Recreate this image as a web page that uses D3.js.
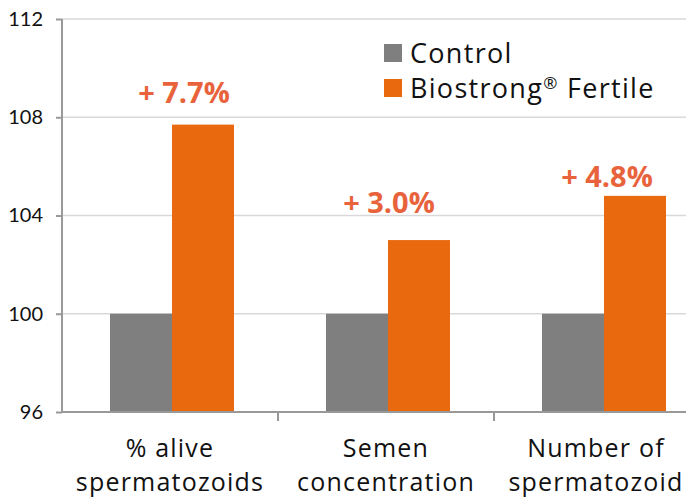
<!DOCTYPE html>
<html>
<head>
<meta charset="utf-8">
<script src="https://cdn.jsdelivr.net/npm/d3@7"></script>
<style>
  body { margin: 0; background: #fff; }
  text { font-family: "Open Sans", Lato, sans-serif; }
</style>
</head>
<body>
<div id="chart"></div>
<script>
// Chart data
const categories = [["% alive", "spermatozoids"], ["Semen", "concentration"], ["Number of", "spermatozoid"]];
const seriesNames = ["Control", "Biostrong"];
const diffLabels = ["+ 7.7%", "+ 3.0%", "+ 4.8%"];
const controlValues = [100, 100, 100];
const biostrongValues = [107.7, 103.0, 104.8];
const yTicks = [96, 100, 104, 108, 112];

// hand placement of the percent labels, relative to the orange bar top
const labelDx = [-19, -30, -28];
const labelDy = [-22, -27, -9];

const width = 686, height = 501;
const colors = ["#7f7f7f", "#e9690f"];

const svg = d3.select("#chart").append("svg")
    .attr("width", width)
    .attr("height", height);

// Scales (third category runs off the right edge like the original)
const x0 = d3.scaleBand()
    .domain(d3.range(categories.length))
    .range([62, 710]);

const x1 = d3.scaleBand()
    .domain([0, 1])
    .range([48, 172]);

const y = d3.scaleLinear()
    .domain([96, 112])
    .range([412, 19]);

// Gridlines
svg.append("g")
    .selectAll("line")
    .data(yTicks.slice(1))
    .join("line")
    .attr("x1", 62)
    .attr("x2", width)
    .attr("y1", d => y(d))
    .attr("y2", d => y(d))
    .attr("stroke", "#d9d9d9")
    .attr("stroke-width", 1.5);

// Bars
const groups = svg.append("g")
    .selectAll("g")
    .data(categories.map((c, i) => [controlValues[i], biostrongValues[i]]))
    .join("g")
    .attr("transform", (d, i) => `translate(${x0(i)},0)`);

groups.selectAll("rect")
    .data(d => d.map((v, k) => ({ k, v })))
    .join("rect")
    .attr("x", d => x1(d.k))
    .attr("y", d => y(d.v))
    .attr("width", x1.bandwidth())
    .attr("height", d => y(96) - y(d.v))
    .attr("fill", d => colors[d.k]);

// Percent labels
groups.append("text")
    .attr("x", (d, i) => x1(1) + x1.bandwidth() / 2 + labelDx[i])
    .attr("y", (d, i) => y(biostrongValues[i]) + labelDy[i])
    .attr("text-anchor", "middle")
    .attr("fill", "#e8623c")
    .attr("font-size", 29)
    .attr("font-weight", "bold")
    .text((d, i) => diffLabels[i]);

// Y axis
const yAxis = svg.append("g")
    .attr("transform", "translate(62,0)")
    .call(d3.axisLeft(y).tickValues(yTicks).tickSize(6).tickFormat(d3.format("d")));
yAxis.select(".domain").attr("stroke", "#999").attr("stroke-width", 2).attr("d", `M0,${y(112)}V${y(96)}`);
yAxis.selectAll(".tick line").attr("stroke", "#999").attr("stroke-width", 2);
yAxis.selectAll(".tick text")
    .attr("x", -19)
    .attr("font-size", 20)
    .attr("fill", "#111")
    .style("font-family", "Lato, sans-serif");

// X axis
const xAxis = svg.append("g")
    .attr("transform", `translate(0,${y(96)})`);
xAxis.append("line")
    .attr("x1", 62).attr("x2", width)
    .attr("stroke", "#999").attr("stroke-width", 2);
xAxis.selectAll(".sep")
    .data(d3.range(1, categories.length + 1))
    .join("line")
    .attr("class", "sep")
    .attr("x1", i => x0(i) ?? x0.range()[1])
    .attr("x2", i => x0(i) ?? x0.range()[1])
    .attr("y1", 0).attr("y2", 9)
    .attr("stroke", "#999").attr("stroke-width", 2);

// Category labels
categories.forEach((lines, i) => {
    const t = svg.append("text")
        .attr("text-anchor", "middle")
        .attr("font-size", 25)
        .attr("letter-spacing", 1.2)
        .attr("fill", "#111");
    lines.forEach((line, j) => {
        t.append("tspan")
            .attr("x", x0(i) + x0.bandwidth() / 2 - (i === 2 ? 6 : 0))
            .attr("y", 457 + j * 34)
            .text(line);
    });
});

// Legend
const legend = svg.append("g").attr("transform", "translate(384,44)");
seriesNames.forEach((name, i) => {
    legend.append("rect")
        .attr("x", 0).attr("y", i * 35)
        .attr("width", 18).attr("height", 18)
        .attr("fill", colors[i]);
    const t = legend.append("text")
        .attr("x", 26).attr("y", i * 35 + 19)
        .attr("font-size", 27)
        .attr("letter-spacing", 1.3)
        .attr("fill", "#111")
        .text(name);
    if (i === 1) {
        t.append("tspan").attr("font-size", 17).attr("dy", -9).text("\u00AE");
        t.append("tspan").attr("dy", 9).text(" Fertile");
    }
});
</script>
</body>
</html>
